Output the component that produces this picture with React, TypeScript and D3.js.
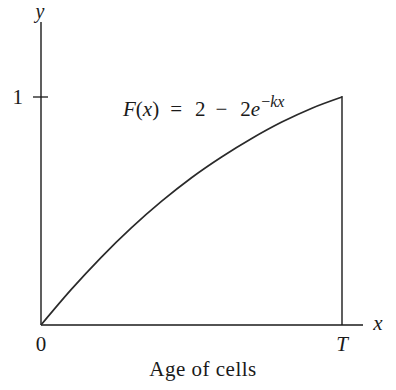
import React from "react";
import * as d3 from "d3";

// Age of cells as a fraction of the division age T
const ages = [0, 0.1, 0.2, 0.3, 0.4, 0.5, 0.6, 0.7, 0.8, 0.9, 1.0];
// Cumulative distribution F(x) at those ages
const cumulative = [0, 0.155, 0.297, 0.426, 0.542, 0.646, 0.737, 0.818, 0.89, 0.951, 1.0];

const xTicks = [0, 1];
const xTickLabels = ["0", "T"];
const yTicks = [1];
const yTickLabels = ["1"];

const W = 396;
const H = 390;
const serif = "'Liberation Serif', 'DejaVu Serif', serif";
const ink = "#1a1a1a";

export default function App() {
  const x = d3.scaleLinear().domain([0, 1]).range([41, 342]);
  const y = d3.scaleLinear().domain([0, 1]).range([325, 97]);

  const pts: [number, number][] = ages.map((a, i) => [a, cumulative[i]]);
  const line = d3
    .line<[number, number]>()
    .x((d) => x(d[0]))
    .y((d) => y(d[1]))
    .curve(d3.curveMonotoneX);

  const x0 = x(0);
  const y0 = y(0);

  return (
    <svg
      width={W}
      height={H}
      viewBox={`0 0 ${W} ${H}`}
      style={{ position: "absolute", left: 0, top: 0, background: "#fff" }}
      fontFamily={serif}
    >
      {/* axes */}
      <line x1={x0} y1={y0} x2={363} y2={y0} stroke={ink} strokeWidth={1.4} />
      <line x1={x0} y1={y0} x2={x0} y2={22} stroke={ink} strokeWidth={1.4} />

      {/* y ticks */}
      {yTicks.map((t, i) => (
        <g key={`yt${i}`}>
          <line x1={33} x2={48} y1={y(t)} y2={y(t)} stroke={ink} strokeWidth={1.3} />
          <text x={23} y={y(t) + 7} textAnchor="end" fontSize={21} fill={ink}>
            {yTickLabels[i]}
          </text>
        </g>
      ))}

      {/* x tick labels */}
      {xTicks.map((t, i) => (
        <text
          key={`xt${i}`}
          x={x(t)}
          y={351}
          textAnchor="middle"
          fontSize={21}
          fontStyle={i === 1 ? "italic" : "normal"}
          fill={ink}
        >
          {xTickLabels[i]}
        </text>
      ))}

      {/* right boundary at x = T */}
      <line x1={x(1)} x2={x(1)} y1={y(0)} y2={y(1) - 1} stroke={ink} strokeWidth={1.4} />

      {/* curve */}
      <path d={line(pts) ?? ""} fill="none" stroke="#2a2a2a" strokeWidth={1.7} />

      {/* axis names */}
      <text x={40} y={18} textAnchor="middle" fontSize={20} fontStyle="italic" fill={ink}>
        y
      </text>
      <text x={378} y={330} textAnchor="middle" fontSize={21} fontStyle="italic" fill={ink}>
        x
      </text>

      {/* formula */}
      <text x={123} y={116} fontSize={21} fill={ink}>
        <tspan fontStyle="italic">F</tspan>
        <tspan>(</tspan>
        <tspan fontStyle="italic">x</tspan>
        <tspan>)</tspan>
        <tspan dx={11}>=</tspan>
        <tspan dx={13}>2</tspan>
        <tspan dx={10}>−</tspan>
        <tspan dx={13}>2</tspan>
        <tspan fontStyle="italic">e</tspan>
        <tspan dx={1} dy={-9} fontSize={16}>−</tspan>
        <tspan fontSize={16} fontStyle="italic">kx</tspan>
      </text>

      {/* caption */}
      <text x={203} y={376} textAnchor="middle" fontSize={21} letterSpacing={0.5} fill={ink}>
        Age of cells
      </text>
    </svg>
  );
}
